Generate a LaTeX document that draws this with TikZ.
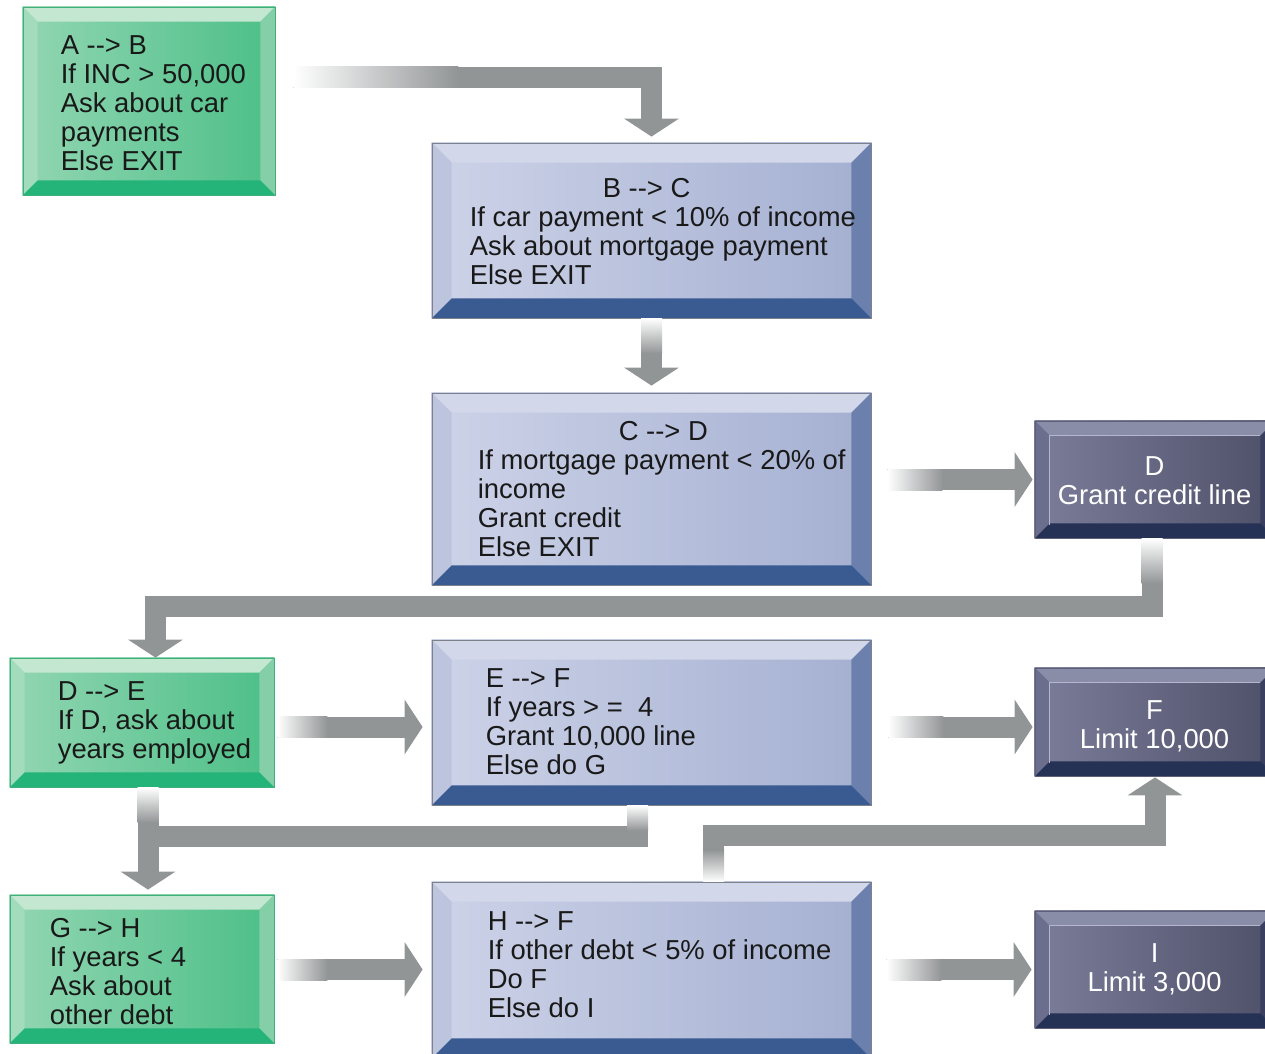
\documentclass[tikz,border=0pt]{standalone}
\usepackage{fontspec}
\setmainfont{Liberation Sans}
\usetikzlibrary{arrows.meta, backgrounds, calc}

% face, bevel and frame colours of the three kinds of box
\definecolor{grl}{HTML}{92D6B2}
\definecolor{grr}{HTML}{4CBF87}
\definecolor{grtop}{HTML}{C3E7D1}
\definecolor{grlft}{HTML}{A3DBBD}
\definecolor{grrgt}{HTML}{84CFA8}
\definecolor{grbot}{HTML}{24B47A}
\definecolor{grline}{HTML}{3FB07C}
\definecolor{bll}{HTML}{CDD3E8}
\definecolor{blr}{HTML}{A4AFD1}
\definecolor{bltop}{HTML}{D2D7EA}
\definecolor{bllft}{HTML}{BCC4DE}
\definecolor{blrgt}{HTML}{6B80AD}
\definecolor{blbot}{HTML}{3A5B91}
\definecolor{blline}{HTML}{7D818C}
\definecolor{dkl}{HTML}{7C7D9A}
\definecolor{dkr}{HTML}{4E5069}
\definecolor{dktop}{HTML}{8A8DA8}
\definecolor{dklft}{HTML}{6C6E8E}
\definecolor{dkrgt}{HTML}{3A3E5F}
\definecolor{dkbot}{HTML}{263255}
\definecolor{dkline}{HTML}{5D6077}
\definecolor{dkinner}{HTML}{B4B7CE}
\definecolor{bandgray}{HTML}{929596}

\newcommand{\arrw}{-\kern0pt->}

\begin{document}
\begin{tikzpicture}[x=1pt, y=-1pt]
\tikzset{
box/.style={line width=0.8pt, inner sep=0pt}, % frame only, the face is drawn behind
grbox/.style={box, draw=grline},
blbox/.style={box, draw=blline},
dkbox/.style={box, draw=dkline},
txt/.style={font=\fontsize{27.4}{29}\selectfont, align=left, inner sep=0pt, anchor=west, text=black!90},
dktxt/.style={txt, align=center, anchor=center, xshift=120pt, text=white},
band/.style={draw=bandgray, line width=21pt, -{Triangle[width=54pt, length=18pt]}}, % fat grey arrow
hfade/.style={left color=white, right color=bandgray},
vfade/.style={top color=white, bottom color=bandgray},
}
\useasboundingbox (0,0) rectangle (1265,1053);

	\node[grbox, minimum width=252pt, minimum height=188pt,
	  label={[txt, xshift=38pt, yshift=-2pt]west:{A \arrw{} B\\If INC > 50,000\\Ask about car\\payments\\Else EXIT}}] (ab) at (149,101) {};
	\node[blbox, minimum width=439pt, minimum height=175pt,
	  label={[txt, xshift=38pt, yshift=-1.5pt]west:{\hspace*{133pt}B \arrw{} C\\If car payment < 10\% of income\\Ask about mortgage payment\\Else EXIT}}] (bc) at (651.5,230.5) {};
	\node[blbox, minimum width=439pt, minimum height=192pt,
	  label={[txt, xshift=46pt]west:{\hspace*{141pt}C \arrw{} D\\If mortgage payment < 20\% of\\income\\Grant credit\\Else EXIT}}] (cd) at (651.5,489) {};
	\node[dkbox, minimum width=240pt, minimum height=117pt,
	  label={[dktxt, yshift=-1pt]west:{D\\Grant credit line}}] (d) at (1155,479.5) {};
	\node[grbox, minimum width=264pt, minimum height=129pt,
	  label={[txt, xshift=48pt]west:{D \arrw{} E\\If D, ask about\\years employed}}] (de) at (142,722.5) {};
	\node[blbox, minimum width=439pt, minimum height=165pt,
	  label={[txt, xshift=54pt, yshift=1pt]west:{E \arrw{} F\\If years >~=~~4\\Grant 10,000 line\\Else do G}}] (ef) at (651.5,722.5) {};
	\node[dkbox, minimum width=240pt, minimum height=108pt,
	  label={[dktxt, yshift=-4.5pt]west:{F\\Limit 10,000}}] (f) at (1155,722) {};
	\node[grbox, minimum width=264pt, minimum height=148pt,
	  label={[txt, xshift=40pt, yshift=-2.5pt]west:{G \arrw{} H\\If years < 4\\Ask about\\other debt}}] (gh) at (142,969) {};
	\node[blbox, minimum width=439pt, minimum height=176pt,
	  label={[txt, xshift=56pt, yshift=5pt]west:{H \arrw{} F\\If other debt < 5\% of income\\Do F\\Else do I}}] (hf) at (651.5,970) {};
	\node[dkbox, minimum width=240pt, minimum height=117pt,
	  label={[dktxt]west:{I\\Limit 3,000}}] (i) at (1155,969.5) {};

	% bevelled faces behind the frames
	\begin{scope}[on background layer]
	\foreach \n/\k/\w in {ab/gr/15, bc/bl/20, cd/bl/20, d/dk/15, de/gr/15, ef/bl/20, f/dk/15, gh/gr/15, hf/bl/20, i/dk/15} {
		\shade[left color=\k l, right color=\k r] (\n.south west) rectangle (\n.north east);
		\fill[fill=\k top] (\n.north west) -- (\n.north east) -- ($(\n.north east)+(-\w,\w)$) -- ($(\n.north west)+(\w,\w)$) -- cycle;
		\fill[fill=\k lft] (\n.north west) -- (\n.south west) -- ($(\n.south west)+(\w,-\w)$) -- ($(\n.north west)+(\w,\w)$) -- cycle;
		\fill[fill=\k rgt] (\n.north east) -- (\n.south east) -- ($(\n.south east)+(-\w,-\w)$) -- ($(\n.north east)+(-\w,\w)$) -- cycle;
		\fill[fill=\k bot] (\n.south west) -- (\n.south east) -- ($(\n.south east)+(-\w,-\w)$) -- ($(\n.south west)+(\w,-\w)$) -- cycle;
	}
	\foreach \n in {d, f, i}
		\draw[dkinner, line width=1pt] ($(\n.south west)+(15,-13)$) -- ($(\n.north west)+(15,15)$) -- ($(\n.north east)+(-15,15)$);
	\end{scope}

	% connectors
	\draw[band] ($(ab.east)+(18,-24)$) -| ($(bc.north)+(0,-6)$);
	\shade[hfade] ($(ab.east)+(18,-34.5)$) rectangle +(165,21);
	\draw[band] (bc.south) -- ($(cd.north)+(0,-7)$);
	\shade[vfade] ($(bc.south)+(-10.5,0)$) rectangle +(21,35);
	\draw[band] ($(cd.east |- d.west)+(16,0)$) -- ($(d.west)+(-2,0)$);
	\shade[hfade] ($(cd.east |- d.west)+(16,-10.5)$) rectangle +(55,21);
	\draw[band] ($(d.south)+(-3,0)$) -- ++(0,68) -| ($(de.north)+(13.5,0)$);
	\shade[vfade] ($(d.south)+(-13.5,0)$) rectangle +(21,45);
	\draw[band] ($(de.east)+(3,4.5)$) -- ($(ef.west)+(-9,4.5)$);
	\shade[hfade] ($(de.east)+(3,-6)$) rectangle +(50,21);
	\draw[band] ($(ef.east)+(17,4.5)$) -- ($(f.west)+(-2,5)$);
	\shade[hfade] ($(ef.east)+(17,-6)$) rectangle +(55,21);
	\draw[band] ($(de.south)+(6,0)$) -- ($(gh.north)+(6,-5)$);
	\shade[vfade] ($(de.south)+(-4.5,0)$) rectangle +(21,35);
	\coordinate (join) at ($(de.south)+(6,49)$);
	\draw[band, -] ($(ef.south)+(-14,0)$) |- (join);
	\shade[vfade] ($(ef.south)+(-24.5,0)$) rectangle +(21,25);
	\draw[band] ($(hf.north)+(62,0)$) -- ++(0,-46) -| ($(f.south)+(0,1)$);
	\shade[top color=bandgray, bottom color=white] ($(hf.north)+(51.5,-32)$) rectangle +(21,32);
	\draw[band] ($(gh.east)+(3,0.5)$) -- ($(hf.west)+(-9,-0.5)$);
	\shade[hfade] ($(gh.east)+(3,-10)$) rectangle +(50,21);
	\draw[band] ($(hf.east)+(15,-0.5)$) -- ($(i.west)+(-3,0)$);
	\shade[hfade] ($(hf.east)+(15,-11)$) rectangle +(55,21);
\end{tikzpicture}
\end{document}
